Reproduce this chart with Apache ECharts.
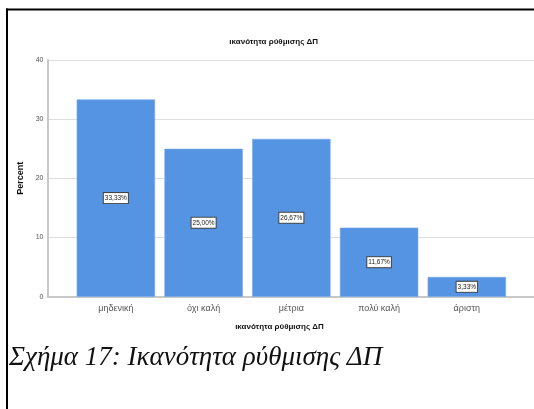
<!DOCTYPE html>
<html>
<head>
<meta charset="utf-8">
<script src="https://cdn.jsdelivr.net/npm/echarts@6/dist/echarts.min.js"></script>
<style>
  html, body { margin: 0; padding: 0; background: #fff; }
  #chart { width: 534px; height: 409px; }
</style>
</head>
<body>
<div id="chart"></div>
<script>
// Rating categories and their percentages
const categories = ['μηδενική', 'όχι καλή', 'μέτρια', 'πολύ καλή', 'άριστη'];
const percents = [33.33, 25.00, 26.67, 11.67, 3.33];
const yTicks = [0, 10, 20, 30, 40];

const chartTitle = 'ικανότητα ρύθμισης ΔΠ';
const xAxisTitle = 'ικανότητα ρύθμισης ΔΠ';
const yAxisTitle = 'Percent';
const caption = 'Σχήμα 17: Ικανότητα ρύθμισης ΔΠ';

const chart = echarts.init(document.getElementById('chart'), null, { renderer: 'canvas' });

const axisGray = '#c8c8c8';
const gridGray = '#dedede';
const labelGray = '#555';
const sans = 'Liberation Sans, Arial, sans-serif';

const option = {
  animation: false,
  backgroundColor: '#fff',
  grid: [
    // bars
    { left: 72, right: 23.3, top: 60, bottom: 112.3 },
    // frame: axis lines and gridlines spanning the full plot width
    { left: 47.5, right: -2, top: 60, bottom: 112.3 }
  ],
  xAxis: [
    {
      type: 'category',
      gridIndex: 0,
      data: categories,
      axisLine: { show: false },
      axisTick: { show: false },
      axisLabel: { color: labelGray, fontSize: 9, fontFamily: sans, margin: 7 }
    },
    {
      type: 'value',
      gridIndex: 1,
      min: 0, max: 1,
      axisLine: { show: true, lineStyle: { color: axisGray, width: 2 } },
      axisTick: { show: false },
      axisLabel: { show: false },
      splitLine: { show: false }
    }
  ],
  yAxis: [
    {
      type: 'value',
      gridIndex: 0,
      min: yTicks[0], max: yTicks[yTicks.length - 1], interval: 10,
      show: false
    },
    {
      type: 'value',
      gridIndex: 1,
      min: yTicks[0], max: yTicks[yTicks.length - 1], interval: 10,
      axisLine: { show: true, lineStyle: { color: axisGray, width: 2 } },
      axisTick: { show: false },
      axisLabel: { color: labelGray, fontSize: 7, fontFamily: sans, margin: 4 },
      splitLine: { show: true, lineStyle: { color: gridGray, width: 1 } },
      name: yAxisTitle,
      nameLocation: 'middle',
      nameGap: 22,
      nameTextStyle: { color: '#111', fontSize: 9, fontWeight: 'bold', fontFamily: sans }
    }
  ],
  series: [
    {
      type: 'bar',
      xAxisIndex: 0,
      yAxisIndex: 0,
      data: percents,
      barCategoryGap: '10.7%',
      itemStyle: { color: '#5594E2', borderColor: '#74a8ec', borderWidth: 0.6 },
      label: {
        show: true,
        position: 'inside',
        formatter: p => p.value.toFixed(2).replace('.', ',') + '%',
        color: '#222',
        fontSize: 6.5,
        fontFamily: sans,
        backgroundColor: '#fff',
        borderColor: '#444',
        borderWidth: 1,
        padding: [2, 1, 1, 1]
      }
    }
  ],
  graphic: [
    // outer frame (top and left edges)
    { type: 'line', shape: { x1: 6, y1: 9.5, x2: 540, y2: 9.5 }, style: { stroke: '#000', lineWidth: 2 } },
    { type: 'line', shape: { x1: 7, y1: 8.5, x2: 7, y2: 420 }, style: { stroke: '#000', lineWidth: 2 } },
    {
      type: 'text', x: 273.7, y: 41.5,
      style: { text: chartTitle, align: 'center', verticalAlign: 'middle', fill: '#111',
               font: 'bold 8px ' + sans }
    },
    {
      type: 'text', x: 279.5, y: 326.7,
      style: { text: xAxisTitle, align: 'center', verticalAlign: 'middle', fill: '#111',
               font: 'bold 8px ' + sans }
    },
    {
      type: 'text', x: 9, y: 344,
      style: { text: caption, align: 'left', verticalAlign: 'top', fill: '#111',
               font: 'italic 27px "Liberation Serif", "Times New Roman", serif' }
    }
  ]
};

chart.setOption(option);
</script>
</body>
</html>
